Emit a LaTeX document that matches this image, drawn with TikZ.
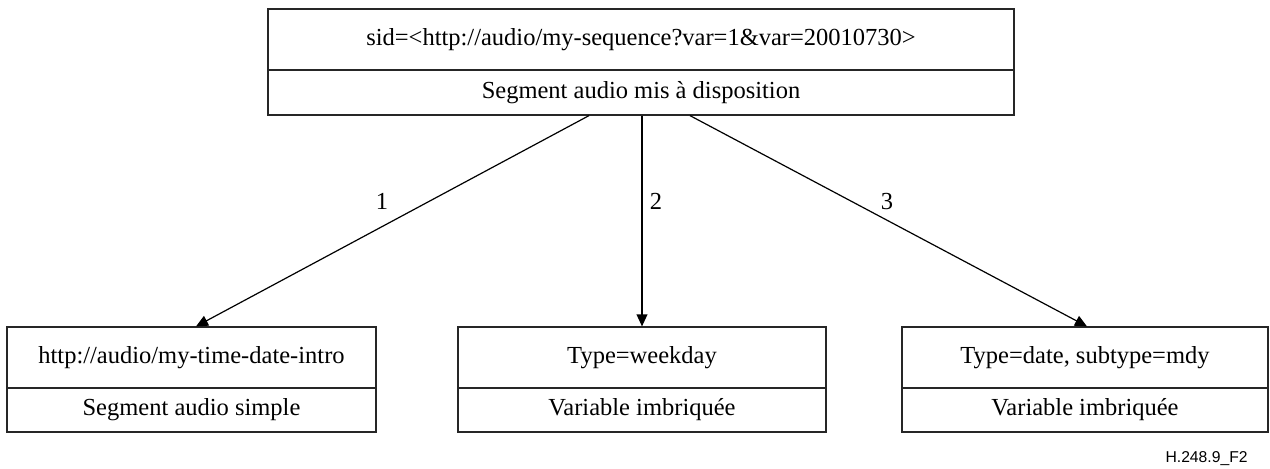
\documentclass[tikz,border=0pt]{standalone}
\usepackage{fontspec}
\setmainfont{Liberation Serif}
\newfontfamily\labelsans{Liberation Sans}
\usetikzlibrary{arrows.meta}
\begin{document}
\begin{tikzpicture}[x=0.5pt,y=-0.5pt,
  boxshape/.style={draw=black!85, line width=0.6pt, inner sep=0pt, rectangle},
  txt/.style={inner sep=0pt, font=\fontsize{12.25}{14}\selectfont},
  divline/.style={draw=black!85, line width=0.6pt},
  arr/.style={draw=black, line width=0.6pt, -{Triangle[length=6pt,width=5.4pt]}}]
\useasboundingbox (0,0) rectangle (1270,468);
% boxes
\node[boxshape, minimum width=373pt, minimum height=53pt] (top) at (641,62) {};
\node[boxshape, minimum width=184.5pt, minimum height=52.5pt] (b1) at (191.5,379.5) {};
\node[boxshape, minimum width=184pt, minimum height=52.5pt] (b2) at (642,379.5) {};
\node[boxshape, minimum width=183pt, minimum height=52.5pt] (b3) at (1085,379.5) {};
% dividers
\draw[divline] ([yshift=-4pt]top.west) -- ([yshift=-4pt]top.east);
\draw[divline] ([yshift=-4.25pt]b1.west) -- ([yshift=-4.25pt]b1.east);
\draw[divline] ([yshift=-4.25pt]b2.west) -- ([yshift=-4.25pt]b2.east);
\draw[divline] ([yshift=-4.25pt]b3.west) -- ([yshift=-4.25pt]b3.east);
% texts
\node[txt] (t1) at (641,40) {sid=<http://audio/my-sequence?var=1\&var=20010730>};
\node[txt] (t2) at (641,92.5) {Segment audio mis à disposition};
\node[txt] (l1a) at (191.5,357.5) {http://audio/my-time-date-intro};
\node[txt] (l1b) at (191.5,410) {Segment audio simple};
\node[txt] (l2a) at (642,357.5) {Type=weekday};
\node[txt] (l2b) at (642,410) {Variable imbriquée};
\node[txt] (l3a) at (1085,357.5) {Type=date, subtype=mdy};
\node[txt] (l3b) at (1085,410) {Variable imbriquée};
% arrows
\draw[arr] ([xshift=-26pt]top.south) -- ([xshift=2.25pt]b1.north);
\draw[arr] ([xshift=0.5pt]top.south) -- (b2.north);
\draw[arr] ([xshift=24.5pt]top.south) -- ([xshift=1pt]b3.north);
% labels
\node[txt] (n1) at (382,201) {1};
\node[txt] (n2) at (656,201) {2};
\node[txt] (n3) at (887,201) {3};
\node[inner sep=0pt, anchor=east, font=\labelsans\fontsize{7.85}{9}\selectfont] (fig) at (1248,458.5) {H.248.9\_F2};
\end{tikzpicture}
\end{document}
